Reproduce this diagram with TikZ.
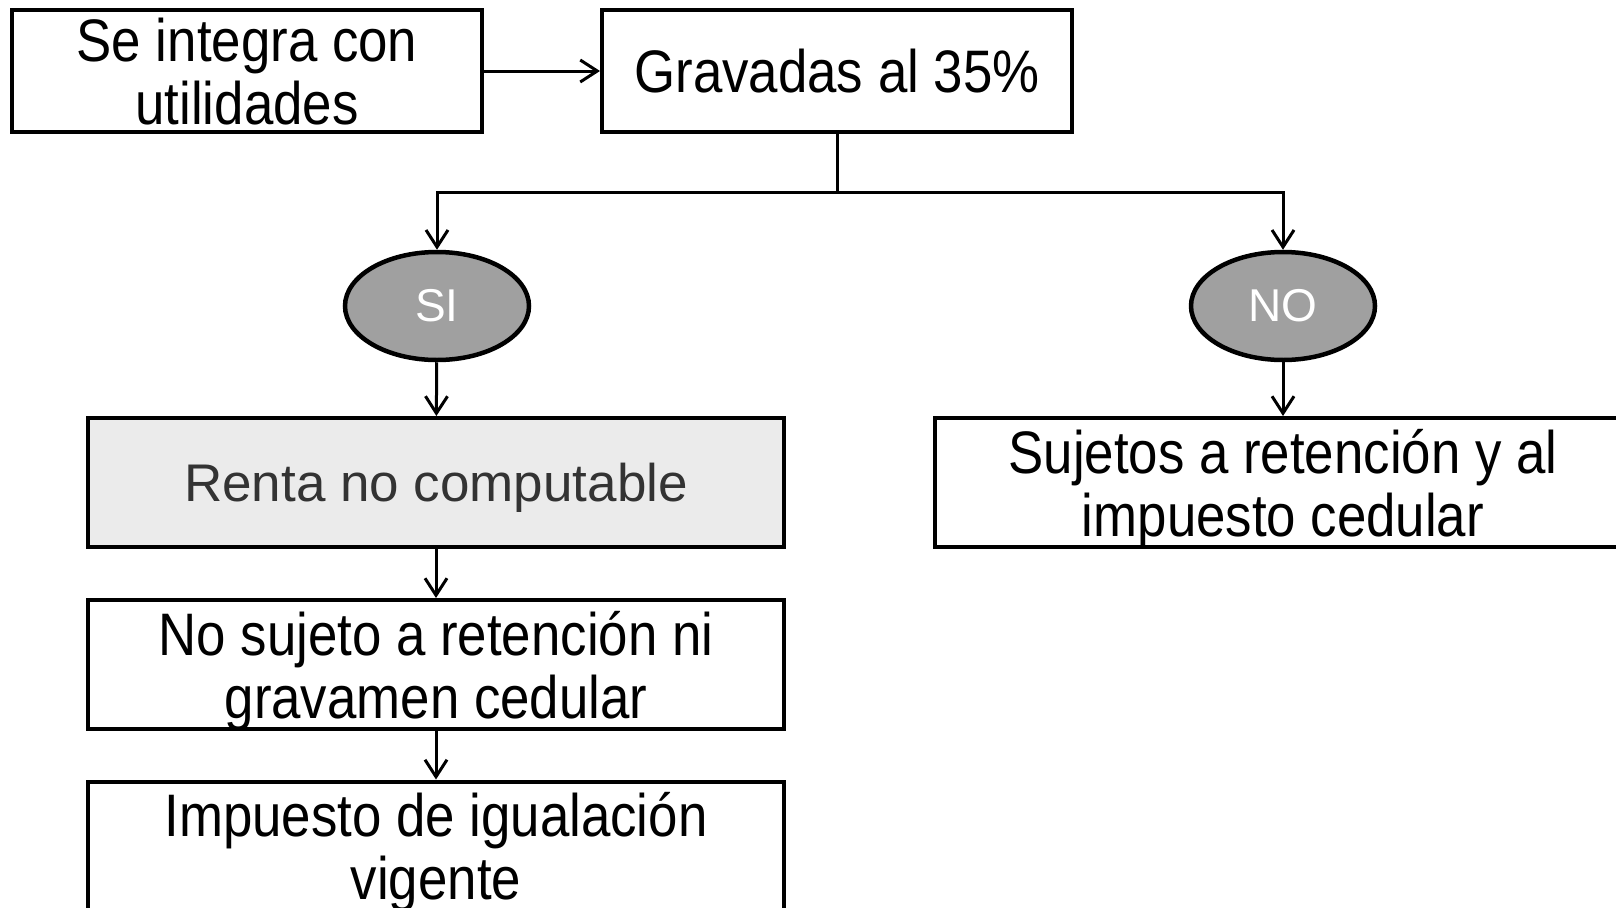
\documentclass[tikz,border=0pt]{standalone}
\usepackage{fontspec}
\setmainfont[FakeStretch=0.88]{Liberation Sans}
\newfontfamily\widesans{Liberation Sans}
\usetikzlibrary{arrows.meta,shapes.geometric}

\definecolor{ovalgray}{HTML}{A0A0A0}
\definecolor{lightbox}{HTML}{EBEBEB}
\definecolor{darktext}{HTML}{333333}

\begin{document}
\begin{tikzpicture}[x=1pt,y=-1pt,
  box/.style={draw, line width=4pt, align=center, inner sep=0pt, text depth=0pt,
    minimum width=696pt, minimum height=129pt,
    font=\fontsize{60}{63}\selectfont},
  topbox/.style={box, minimum width=470pt, minimum height=122pt},
  oval/.style={draw, ellipse, line width=4.5pt, fill=ovalgray, text=white,
    minimum width=184pt, minimum height=108pt, inner sep=0pt,
    font=\widesans\fontsize{46}{48}\selectfont},
  link/.style={line width=3pt, -{Straight Barb[length=17pt,width=22pt,line width=3pt]}}]

\useasboundingbox (0,0) rectangle (1616,907);

\node[topbox] (integra) at (247,71) {Se integra con\\utilidades};
\node[topbox] (gravadas) at (837,71) {Gravadas al 35\%};

\node[oval] (si) at (437,306) {SI};
\node[oval] (no) at (1283,306) {NO};

\node[box, fill=lightbox, text=darktext, font=\widesans\fontsize{53}{55}\selectfont] (renta) at (436,482.5) {Renta no computable};
\node[box] (nosujeto) at (436,664.5) {No sujeto a retención ni\\gravamen cedular};
\node[box] (impuesto) at (436,846) {Impuesto de igualación\\vigente};

\node[box] (sujetos) at (1283,482.5) {Sujetos a retención y al\\impuesto cedular};

\coordinate (split) at (837,192);

\draw[link] (integra) -- (gravadas);
\draw[line width=3pt] (gravadas.south) -- (split);
\draw[link] (split) -| (si.north);
\draw[link] (split) -| (no.north);

\draw[link] (si) -- (renta);
\draw[link] (renta) -- (nosujeto);
\draw[link] (nosujeto) -- (impuesto);
\draw[link] (no) -- (sujetos);

\end{tikzpicture}
\end{document}
